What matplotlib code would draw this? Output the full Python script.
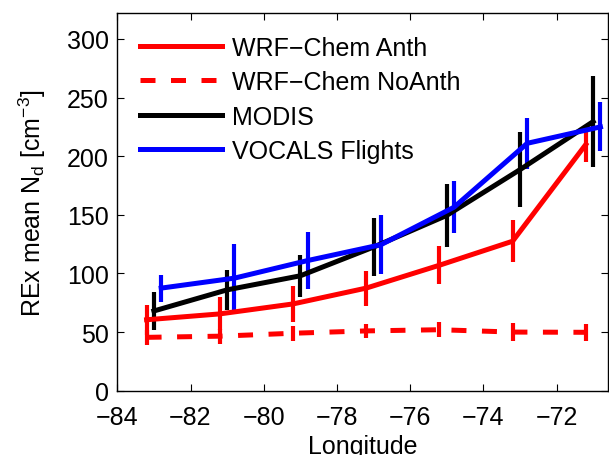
import numpy as np
import matplotlib
matplotlib.use('Agg')
import matplotlib.pyplot as plt
from matplotlib.lines import Line2D

plt.rcParams['font.family'] = ['Liberation Sans', 'DejaVu Sans']
plt.rcParams['mathtext.fontset'] = 'custom'
plt.rcParams['mathtext.rm'] = 'Liberation Sans'
plt.rcParams['mathtext.it'] = 'Liberation Sans:italic'
plt.rcParams['mathtext.default'] = 'regular'

# longitudes (series are offset slightly in the original)
lon_wrf = [-83.2, -81.2, -79.2, -77.2, -75.2, -73.2, -71.2]
lon_modis = [-83.0, -81.0, -79.0, -77.0, -75.0, -73.0, -71.0]
lon_vocals = [-82.8, -80.8, -78.8, -76.8, -74.8, -72.8, -70.8]

# REx mean Nd and error bar half-lengths
anth = [60.5, 65.5, 74.0, 87.5, 107.0, 127.5, 210.0]
anth_err = [13, 14, 15, 15, 16, 18, 15]
noanth = [45.5, 46.5, 49.0, 51.0, 52.0, 50.0, 49.8]
noanth_err = [6.5, 6.5, 6.5, 6.0, 6.5, 7.5, 7.0]
modis = [68.0, 86.0, 98.0, 122.5, 149.5, 188.5, 229.5]
modis_err = [16, 17, 18, 25, 27, 32, 38.5]
vocals = [87.5, 96.0, 111.0, 124.5, 156.5, 211.0, 225.0]
vocals_err = [11.5, 29, 24, 25, 22, 21.5, 21]

labels = ['WRF\u2212Chem Anth', 'WRF\u2212Chem NoAnth', 'MODIS', 'VOCALS Flights']

fs = 18
lw = 3.6
elw = 3.0
dash = (0, (3.0, 3.1))

fig = plt.figure(figsize=(6.09, 4.56), dpi=100)
ax = fig.add_axes([0.1926, 0.141, 0.806, 0.828])

ax.errorbar(lon_wrf, anth, yerr=anth_err, color='#ff0000', lw=lw,
            elinewidth=elw, capsize=0)
ax.errorbar(lon_wrf, noanth, yerr=noanth_err, color='#ff0000', lw=lw,
            ls=dash, elinewidth=elw, capsize=0)
ax.errorbar(lon_modis, modis, yerr=modis_err, color='black', lw=lw,
            elinewidth=elw, capsize=0)
ax.errorbar(lon_vocals, vocals, yerr=vocals_err, color='#0000ff', lw=lw,
            elinewidth=elw, capsize=0)

ax.set_xlim(-84, -70.59)
ax.set_ylim(0, 322)
ax.set_xticks(np.arange(-84, -71, 2))
ax.set_yticks(np.arange(0, 301, 50))
ax.tick_params(direction='in', top=True, right=True, labelsize=fs,
               length=5, width=0.8)
ax.tick_params(axis='x', pad=10)
ax.tick_params(axis='y', pad=6)
for s in ax.spines.values():
    s.set_linewidth(1.0)

ax.set_xlabel('Longitude', fontsize=fs, labelpad=4)
ax.set_ylabel('REx mean N$_{d}$ [cm$^{-3}$]', fontsize=fs, labelpad=14)

# legend shows plain lines, no error bars
handles = [Line2D([], [], color='#ff0000', lw=lw),
           Line2D([], [], color='#ff0000', lw=lw, ls=dash),
           Line2D([], [], color='black', lw=lw),
           Line2D([], [], color='#0000ff', lw=lw)]
leg = ax.legend(handles, labels, loc='upper left', bbox_to_anchor=(0.0, 1.0),
                frameon=False, fontsize=fs, handlelength=3.3,
                handletextpad=0.4, labelspacing=0.42, borderaxespad=0.5)

plt.savefig('out.png', dpi=100)
